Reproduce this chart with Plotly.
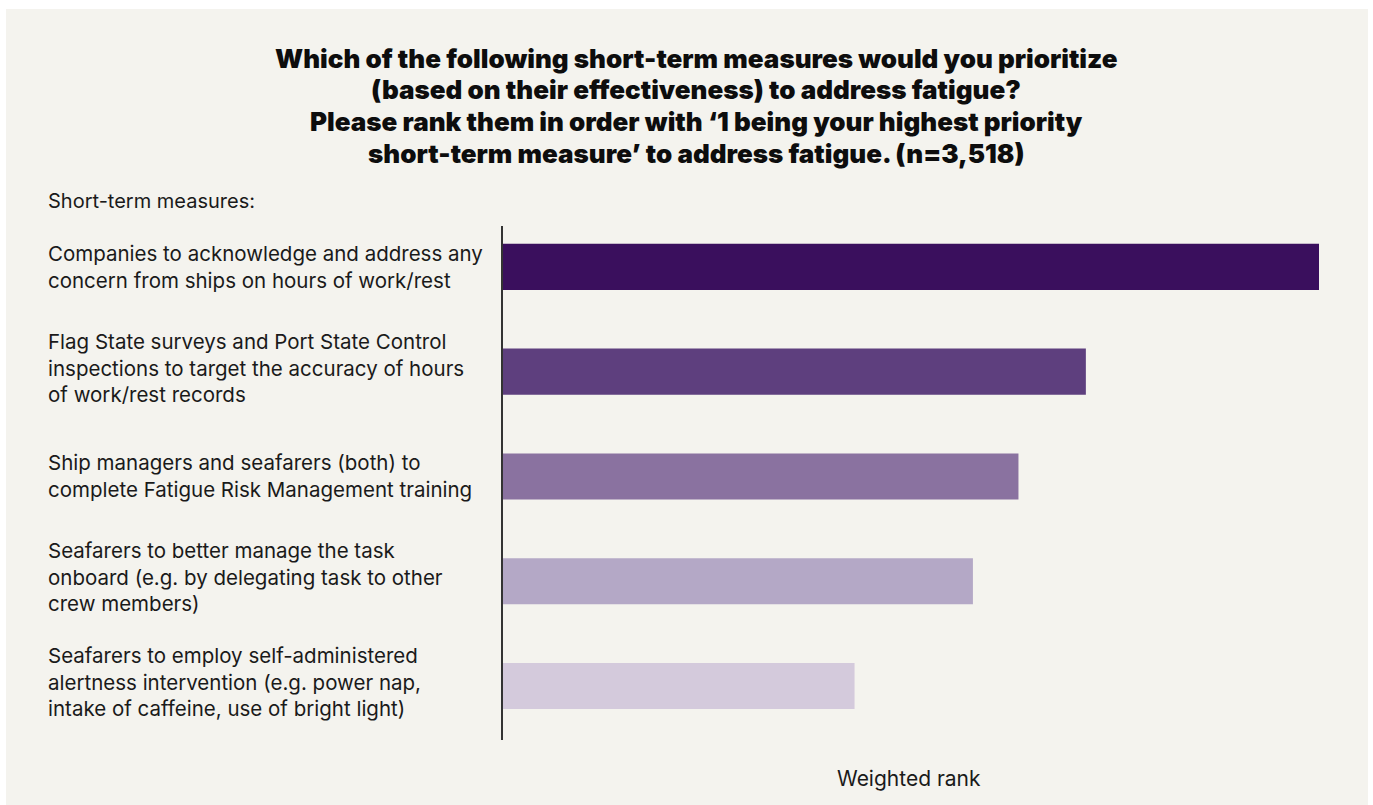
import plotly.graph_objects as go

# Survey results: weighted rank of short-term fatigue measures
measures = [
    "Companies to acknowledge and address any<br>concern from ships on hours of work/rest",
    "Flag State surveys and Port State Control<br>inspections to target the accuracy of hours<br>of work/rest records",
    "Ship managers and seafarers (both) to<br>complete Fatigue Risk Management training",
    "Seafarers to better manage the task<br>onboard (e.g. by delegating task to other<br>crew members)",
    "Seafarers to employ self-administered<br>alertness intervention (e.g. power nap,<br>intake of caffeine, use of bright light)",
]
weighted_rank = [4.48, 3.20, 2.83, 2.58, 1.93]
bar_colors = ["#3a0f5d", "#5e3f7e", "#8a72a0", "#b4a8c6", "#d4cadc"]

title_lines = [
    "Which of the following short-term measures would you prioritize",
    "(based on their effectiveness) to address fatigue?",
    "Please rank them in order with \u20181 being your highest priority",
    "short-term measure\u2019 to address fatigue. (n=3,518)",
]

W, H = 1373, 805
ML, MR, MT, MB = 503, 54, 226, 65
PW, PH = W - ML - MR, H - MT - MB
BG = "#f4f3ee"
FONT = "Inter"
TEXT = "#1a1a1a"


def px_x(px):
    return (px - ML) / PW


def px_y(py):
    return (H - MB - py) / PH


fig = go.Figure(go.Bar(
    x=weighted_rank,
    y=list(range(len(measures))),
    orientation="h",
    marker=dict(color=bar_colors, line=dict(width=0)),
    hoverinfo="skip",
))

annotations = []
# Title: one annotation per line to keep the tight headline leading
for k, line in enumerate(title_lines):
    annotations.append(dict(
        text=line, xref="paper", yref="paper", x=px_x(696), y=px_y(58 + k * 31.7),
        xanchor="center", yanchor="middle", showarrow=False,
        font=dict(family=FONT, size=26, color="#0d0d0d", weight=900),
    ))
annotations += [
    dict(text="Short-term measures:", xref="paper", yref="paper", x=px_x(46), y=px_y(201),
         xanchor="left", yanchor="middle", showarrow=False, align="left",
         font=dict(family=FONT, size=20, color=TEXT)),
    dict(text="Weighted rank", xref="paper", yref="paper", x=px_x(909), y=px_y(778),
         xanchor="center", yanchor="middle", showarrow=False,
         font=dict(family=FONT, size=21, color=TEXT)),
]
for i, label in enumerate(measures):
    n_lines = label.count("<br>") + 1
    annotations.append(dict(
        text=label, xref="paper", yref="y", x=px_x(46), y=i,
        xanchor="left", yanchor="middle", showarrow=False, align="left",
        yshift=4 if n_lines == 3 else 0,
        font=dict(family=FONT, size=20.5, color=TEXT),
    ))

fig.update_layout(
    width=W, height=H,
    margin=dict(l=ML, r=MR, t=MT, b=MB),
    paper_bgcolor="white",
    plot_bgcolor=BG,
    bargap=0.56,
    showlegend=False,
    annotations=annotations,
    shapes=[dict(type="rect", xref="paper", yref="paper", layer="below",
                 x0=px_x(6), x1=px_x(1368), y0=px_y(9), y1=px_y(806),
                 fillcolor=BG, line=dict(width=0))],
    xaxis=dict(range=[0, 4.48], showgrid=False, zeroline=False, showticklabels=False,
               ticks="", showline=False, fixedrange=True),
    yaxis=dict(range=[4.515, -0.39], showgrid=False, zeroline=False, showticklabels=False,
               ticks="", showline=True, linecolor="#333333", linewidth=2, fixedrange=True),
)

fig.write_html("out.html", config={"displayModeBar": False})
